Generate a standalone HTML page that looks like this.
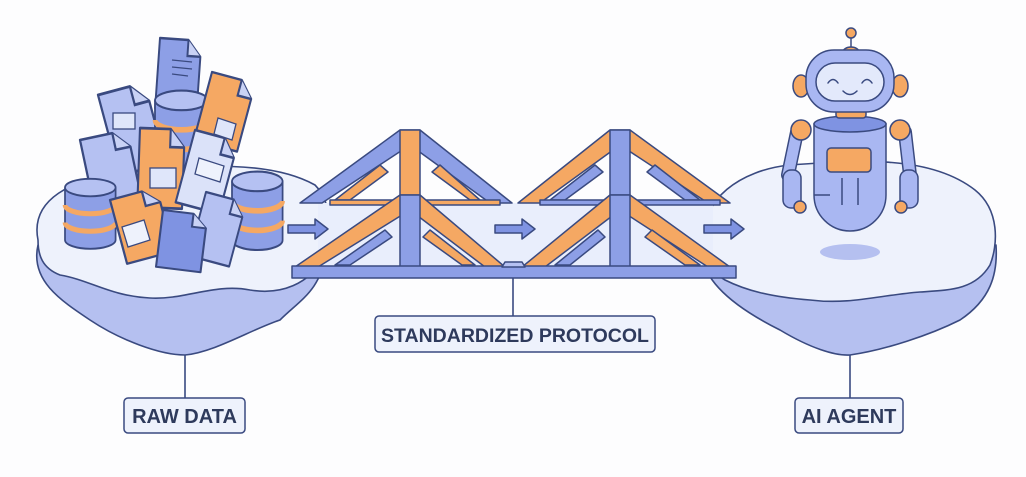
<!DOCTYPE html>
<html><head><meta charset="utf-8"><style>
html,body{margin:0;padding:0;background:#fdfdfe;}
svg{display:block}
text{font-family:"Liberation Sans",sans-serif;font-weight:bold;fill:#2e3a5c}
</style></head><body>
<svg width="1026" height="477" viewBox="0 0 1026 477" xmlns="http://www.w3.org/2000/svg">
<defs>
<g id="doc"><path d="M0 0 H22 L32 10 V44 H0 Z" stroke="#3a4a80" stroke-width="1.5" stroke-linejoin="round"/><path d="M22 0 V10 H32" fill="#c9d2f5" stroke="#3a4a80" stroke-width="1.5"/></g>
<g id="db"><path d="M0 6 V48 A22 7 0 0 0 44 48 V6" fill="#8d9fe6" stroke="#3a4a80" stroke-width="1.5"/><ellipse cx="22" cy="6" rx="22" ry="7" fill="#b5c1f2" stroke="#3a4a80" stroke-width="1.5"/><path d="M0 20 A22 7 0 0 0 44 20 M0 34 A22 7 0 0 0 44 34" fill="none" stroke="#f5a863" stroke-width="4"/></g>
</defs>
<g stroke="#3a4a80" stroke-width="1.6" stroke-linejoin="round">
<path d="M38 245 C30 280 60 300 90 320 C120 340 160 355 185 355 C215 352 250 330 280 320 C300 300 322 290 326 250 Z" fill="#b5c0f0"/>
<path d="M38 240 C30 200 70 178 130 172 C200 165 270 160 315 185 C335 205 330 245 325 255 C310 285 280 295 250 290 C215 283 185 300 150 298 C110 296 90 280 60 275 C42 268 38 255 38 240 Z" fill="#eef2fc"/>
<path d="M702 255 C705 285 740 310 780 330 C810 348 835 356 850 355 C885 350 930 335 960 320 C990 300 998 275 996 245 Z" fill="#b5c0f0"/>
<path d="M705 240 C700 200 740 170 790 165 C860 160 930 155 975 190 C1000 210 998 245 990 265 C975 290 950 290 920 292 C880 295 850 305 810 300 C770 297 745 290 725 280 C708 270 705 255 705 240 Z" fill="#eef2fc"/>
<ellipse cx="850" cy="252" rx="30" ry="8" fill="#b5c0f0" stroke="none"/>
</g>
<rect x="318" y="203" width="395" height="64" fill="#e9eefc"/>
<g stroke="#3a4a80" stroke-width="1.6">
<line x1="185" y1="355" x2="185" y2="398"/>
<line x1="850" y1="355" x2="850" y2="398"/>
<line x1="513" y1="278" x2="513" y2="316"/>
</g>
<g stroke="#3a4a80" stroke-width="1.5" stroke-linejoin="round">
<path d="M300 203 L400 130 L420 130 L512 203 L490 203 L410 145 L322 203 Z" fill="#8d9fe6"/>
<path d="M400 130 H420 V200 H400 Z" fill="#f5a863"/>
<path d="M335 200 L380 165 L388 172 L350 200 Z" fill="#f5a863"/>
<path d="M480 200 L440 165 L432 172 L470 200 Z" fill="#f5a863"/>
<path d="M330 200 H500 V205 H330Z" fill="#f5a863"/>
<path d="M518 203 L610 130 L630 130 L730 203 L708 203 L620 145 L540 203 Z" fill="#f5a863"/>
<path d="M610 130 H630 V200 H610 Z" fill="#8d9fe6"/>
<path d="M550 200 L595 165 L603 172 L565 200 Z" fill="#8d9fe6"/>
<path d="M700 200 L655 165 L647 172 L685 200 Z" fill="#8d9fe6"/>
<path d="M540 200 H720 V205 H540Z" fill="#8d9fe6"/>
<path d="M295 267 L400 195 L420 195 L505 267 L485 267 L410 210 L318 267 Z" fill="#f5a863"/>
<path d="M400 195 H420 V267 H400 Z" fill="#8d9fe6"/>
<path d="M335 265 L385 230 L392 237 L350 265 Z" fill="#8d9fe6"/>
<path d="M475 265 L430 230 L423 237 L462 265 Z" fill="#f5a863"/>
<path d="M522 267 L610 195 L630 195 L730 267 L708 267 L620 210 L545 267 Z" fill="#f5a863"/>
<path d="M610 195 H630 V267 H610 Z" fill="#8d9fe6"/>
<path d="M555 265 L598 230 L605 237 L570 265 Z" fill="#8d9fe6"/>
<path d="M700 265 L652 230 L645 237 L685 265 Z" fill="#f5a863"/>
<path d="M292 266 H736 V278 H292 Z" fill="#8d9fe6"/>
<path d="M505 262 H522 L525 267 H502 Z" fill="#b5c1f2"/>
<path d="M288 225 H315 V219 L328 229 L315 239 V233 H288 Z" fill="#7f93e2"/>
<path d="M495 225 H522 V219 L535 229 L522 239 V233 H495 Z" fill="#7f93e2"/>
<path d="M704 225 H731 V219 L744 229 L731 239 V233 H704 Z" fill="#7f93e2"/>
</g>
<g>
<use href="#doc" transform="translate(160,38) rotate(4) scale(1.3,1.6)" fill="#8d9fe6"/>
<use href="#doc" transform="translate(98,95) rotate(-15) scale(1.5,1.9)" fill="#b5c1f2"/>
<use href="#db" transform="translate(155,92) scale(1.2,1.4)"/>
<use href="#doc" transform="translate(212,72) rotate(15) scale(1.4,1.6)" fill="#f5a863"/>
<use href="#doc" transform="translate(80,140) rotate(-12) scale(1.5,1.7)" fill="#b5c1f2"/>
<use href="#doc" transform="translate(140,128) rotate(2) scale(1.4,1.8)" fill="#f5a863"/>
<use href="#doc" transform="translate(195,130) rotate(15) scale(1.4,1.7)" fill="#dbe2f9"/>
<use href="#db" transform="translate(65,180) scale(1.15,1.25)"/>
<use href="#db" transform="translate(232,173) scale(1.15,1.4)"/>
<use href="#doc" transform="translate(110,200) rotate(-15) scale(1.5,1.5)" fill="#f5a863"/>
<use href="#doc" transform="translate(206,192) rotate(15) scale(1.3,1.5)" fill="#b5c1f2"/>
<use href="#doc" transform="translate(163,210) rotate(7) scale(1.4,1.3)" fill="#7f93e2"/>
<g stroke="#3a4a80" stroke-width="1.3">
<line x1="172" y1="60" x2="192" y2="62"/><line x1="172" y1="67" x2="192" y2="69"/><line x1="172" y1="74" x2="188" y2="76"/>
<rect x="113" y="113" width="22" height="16" fill="#dfe6fa"/>
<path d="M218 118 L236 124 L232 140 L214 134Z" fill="#dfe6fa"/>
<rect x="150" y="168" width="26" height="20" fill="#dfe6fa"/>
<path d="M199 158 L224 166 L220 182 L195 174 Z" fill="#eef2fc"/>
<path d="M122 227 L144 220 L150 240 L128 247Z" fill="#eef2fc"/>
</g>
</g>
<g stroke="#3a4a80" stroke-width="1.5">
<line x1="851" y1="37" x2="851" y2="50"/>
<circle cx="851" cy="33" r="5" fill="#f5a863"/>
<path d="M843 52 A8 5 0 0 1 859 52Z" fill="#f5a863"/>
<ellipse cx="801" cy="86" rx="8" ry="11" fill="#f5a863"/>
<ellipse cx="900" cy="86" rx="8" ry="11" fill="#f5a863"/>
<path d="M797 132 L788 175" stroke-width="14" stroke-linecap="round" fill="none"/>
<path d="M797 132 L788 175" stroke="#a9b7f2" stroke-width="11" stroke-linecap="round" fill="none"/>
<path d="M905 132 L910 175" stroke-width="14" stroke-linecap="round" fill="none"/>
<path d="M905 132 L910 175" stroke="#a9b7f2" stroke-width="11" stroke-linecap="round" fill="none"/>
<rect x="783" y="170" width="18" height="38" rx="8" fill="#a9b7f2"/>
<rect x="900" y="170" width="18" height="38" rx="8" fill="#a9b7f2"/>
<circle cx="800" cy="207" r="6" fill="#f5a863"/>
<circle cx="901" cy="207" r="6" fill="#f5a863"/>
<circle cx="801" cy="130" r="10" fill="#f5a863"/>
<circle cx="900" cy="130" r="10" fill="#f5a863"/>
<path d="M814 124 V195 A36 36 0 0 0 886 195 V124 Z" fill="#a9b7f2"/>
<ellipse cx="850" cy="124" rx="36" ry="8" fill="#7f93e2"/>
<path d="M842 178 V205 M858 178 V205 M814 195 H830" fill="none"/>
<rect x="827" y="148" width="44" height="24" rx="4" fill="#f5a863"/>
<rect x="836" y="108" width="30" height="10" rx="3" fill="#f5a863"/>
<rect x="806" y="50" width="88" height="62" rx="28" fill="#a9b7f2"/>
<rect x="816" y="63" width="68" height="38" rx="19" fill="#e3e9fb"/>
<path d="M828 83 q5 -7 10 0 M862 83 q5 -7 10 0 M843 91 q7 7 14 0" fill="none" stroke-linecap="round"/>
</g>
<g stroke="#3a4a80" stroke-width="1.5" fill="#eef2fc">
<rect x="124" y="398" width="121" height="35" rx="4"/>
<rect x="375" y="316" width="280" height="36" rx="4"/>
<rect x="795" y="398" width="108" height="35" rx="4"/>
</g>
<text x="184.5" y="423" font-size="20" text-anchor="middle">RAW DATA</text>
<text x="515" y="342" font-size="19.5" text-anchor="middle">STANDARDIZED PROTOCOL</text>
<text x="849" y="423" font-size="20" text-anchor="middle">AI AGENT</text>
</svg>
</body></html>
